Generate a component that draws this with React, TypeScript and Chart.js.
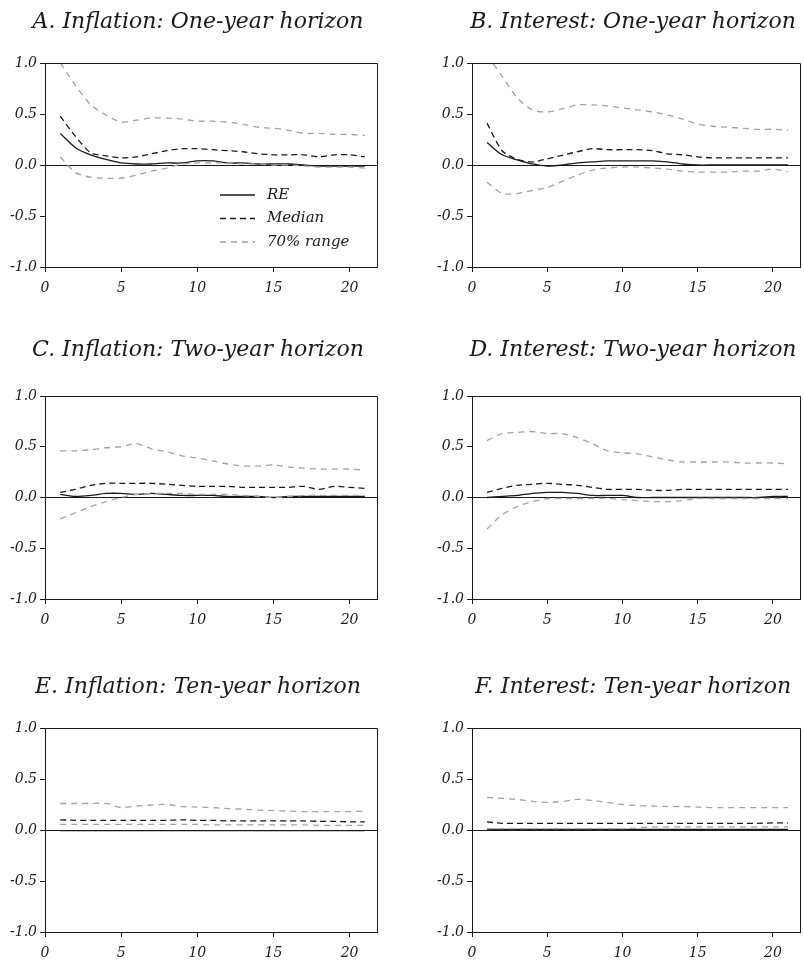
import React, { useEffect, useRef } from 'react';
import { Chart, registerables } from 'chart.js';

Chart.register(...registerables);

// ---------------- data ----------------
const PERIODS = [1, 2, 3, 4, 5, 6, 7, 8, 9, 10, 11, 12, 13, 14, 15, 16, 17, 18, 19, 20, 21];
const X_TICKS = [0, 5, 10, 15, 20];
const Y_TICKS = [-1, -0.5, 0, 0.5, 1];
const X_MAX = 21.8;
const LEGEND_LABELS = ['RE', 'Median', '70% range'];

const TITLES = [
  'A. Inflation: One-year horizon',
  'B. Interest: One-year horizon',
  'C. Inflation: Two-year horizon',
  'D. Interest: Two-year horizon',
  'E. Inflation: Ten-year horizon',
  'F. Interest: Ten-year horizon',
];

// A. Inflation, one-year
const A_RE = [0.31, 0.17, 0.10, 0.055, 0.02, 0.01, 0.01, 0.02, 0.02, 0.04, 0.04, 0.02, 0.02, 0.01, 0.01, 0.01, 0.0, -0.01, -0.01, -0.01, -0.01];
const A_MEDIAN = [0.48, 0.28, 0.12, 0.09, 0.07, 0.08, 0.11, 0.14, 0.16, 0.16, 0.15, 0.14, 0.13, 0.11, 0.10, 0.10, 0.10, 0.08, 0.10, 0.10, 0.08];
const A_UPPER = [1.0, 0.78, 0.59, 0.49, 0.42, 0.44, 0.46, 0.46, 0.45, 0.43, 0.43, 0.42, 0.40, 0.37, 0.36, 0.34, 0.31, 0.31, 0.30, 0.30, 0.29];
const A_LOWER = [0.08, -0.075, -0.12, -0.13, -0.13, -0.10, -0.06, -0.03, 0.01, 0.02, 0.02, 0.02, 0.01, 0.01, 0.0, 0.0, -0.01, -0.02, -0.02, -0.02, -0.03];

// B. Interest, one-year
const B_RE = [0.22, 0.10, 0.05, 0.01, -0.01, 0.0, 0.02, 0.03, 0.04, 0.04, 0.04, 0.04, 0.03, 0.01, 0.0, 0.0, 0.0, 0.0, 0.0, 0.0, 0.0];
const B_MEDIAN = [0.41, 0.14, 0.055, 0.03, 0.06, 0.095, 0.13, 0.16, 0.15, 0.15, 0.15, 0.14, 0.11, 0.10, 0.08, 0.07, 0.07, 0.07, 0.07, 0.07, 0.07];
const B_UPPER = [1.08, 0.87, 0.66, 0.54, 0.52, 0.55, 0.59, 0.59, 0.58, 0.56, 0.54, 0.52, 0.49, 0.45, 0.40, 0.38, 0.37, 0.36, 0.35, 0.35, 0.34];
const B_LOWER = [-0.17, -0.28, -0.28, -0.25, -0.22, -0.16, -0.10, -0.05, -0.03, -0.02, -0.02, -0.03, -0.04, -0.06, -0.07, -0.07, -0.07, -0.06, -0.06, -0.04, -0.065];

// C. Inflation, two-year
const C_RE = [0.03, 0.01, 0.02, 0.04, 0.04, 0.03, 0.04, 0.03, 0.02, 0.02, 0.02, 0.01, 0.01, 0.01, 0.0, 0.01, 0.01, 0.01, 0.01, 0.01, 0.01];
const C_MEDIAN = [0.05, 0.08, 0.12, 0.14, 0.14, 0.14, 0.14, 0.13, 0.12, 0.11, 0.11, 0.11, 0.10, 0.10, 0.10, 0.10, 0.11, 0.08, 0.11, 0.10, 0.09];
const C_UPPER = [0.46, 0.46, 0.47, 0.49, 0.50, 0.53, 0.48, 0.45, 0.41, 0.39, 0.36, 0.33, 0.31, 0.31, 0.32, 0.30, 0.29, 0.28, 0.28, 0.28, 0.27];
const C_LOWER = [-0.21, -0.15, -0.09, -0.04, 0.0, 0.03, 0.04, 0.04, 0.04, 0.03, 0.03, 0.03, 0.02, 0.01, 0.0, 0.01, 0.02, 0.02, 0.02, 0.02, 0.02];

// D. Interest, two-year
const D_RE = [0.0, 0.01, 0.02, 0.04, 0.05, 0.05, 0.04, 0.02, 0.02, 0.02, 0.0, 0.0, 0.0, 0.0, 0.0, 0.0, 0.0, 0.0, 0.0, 0.01, 0.01];
const D_MEDIAN = [0.05, 0.09, 0.12, 0.13, 0.14, 0.13, 0.12, 0.10, 0.08, 0.08, 0.08, 0.07, 0.07, 0.08, 0.08, 0.08, 0.08, 0.08, 0.08, 0.08, 0.08];
const D_UPPER = [0.56, 0.63, 0.64, 0.65, 0.63, 0.63, 0.59, 0.53, 0.46, 0.44, 0.43, 0.40, 0.37, 0.35, 0.35, 0.35, 0.35, 0.34, 0.34, 0.34, 0.33];
const D_LOWER = [-0.31, -0.17, -0.09, -0.04, -0.01, -0.01, -0.01, -0.01, -0.01, -0.02, -0.03, -0.04, -0.04, -0.03, -0.01, -0.01, -0.01, -0.01, -0.01, -0.01, -0.01];

// E. Inflation, ten-year
const E_RE = [-0.007, -0.007, -0.007, -0.007, -0.007, -0.007, -0.007, -0.007, -0.007, -0.007, -0.007, -0.007, -0.007, -0.007, -0.007, -0.007, -0.007, -0.007, -0.007, -0.007, -0.007];
const E_MEDIAN = [0.10, 0.095, 0.095, 0.095, 0.095, 0.095, 0.095, 0.095, 0.10, 0.095, 0.095, 0.09, 0.09, 0.09, 0.09, 0.09, 0.09, 0.085, 0.085, 0.08, 0.08];
const E_UPPER = [0.26, 0.26, 0.26, 0.26, 0.22, 0.235, 0.245, 0.25, 0.23, 0.225, 0.22, 0.21, 0.205, 0.195, 0.19, 0.185, 0.18, 0.18, 0.18, 0.18, 0.185];
const E_LOWER = [0.055, 0.055, 0.055, 0.055, 0.055, 0.055, 0.055, 0.055, 0.055, 0.055, 0.05, 0.05, 0.05, 0.05, 0.05, 0.05, 0.05, 0.045, 0.045, 0.045, 0.045];

// F. Interest, ten-year
const F_RE = [0.005, 0.005, 0.005, 0.005, 0.005, 0.005, 0.005, 0.005, 0.005, 0.005, 0.005, 0.005, 0.005, 0.005, 0.005, 0.005, 0.005, 0.005, 0.005, 0.005, 0.005];
const F_MEDIAN = [0.08, 0.065, 0.065, 0.065, 0.065, 0.065, 0.065, 0.065, 0.065, 0.065, 0.065, 0.065, 0.065, 0.065, 0.065, 0.065, 0.065, 0.065, 0.065, 0.07, 0.07];
const F_UPPER = [0.32, 0.31, 0.30, 0.28, 0.27, 0.28, 0.30, 0.29, 0.27, 0.25, 0.24, 0.235, 0.23, 0.23, 0.225, 0.22, 0.22, 0.22, 0.22, 0.22, 0.22];
const F_LOWER = [0.013, 0.013, 0.013, 0.013, 0.013, 0.013, 0.013, 0.013, 0.013, 0.013, 0.02, 0.03, 0.03, 0.03, 0.03, 0.03, 0.03, 0.03, 0.03, 0.03, 0.03];

// ---------------- styling / layout ----------------
const FONT = "'DejaVu Serif', 'Liberation Serif', serif";
const GRAY = '#a2a2a2';
const INK = '#1a1a1a';
const TITLE_SIZE = 22;
const X_AXIS_H = 30;

// canvas x / width, left axis width, right spacer width (keeps title centred where the original has it)
const COLS = [
  { x: 0, w: 396, yAxisW: 45, rightW: 19 },
  { x: 426, w: 414, yAxisW: 46, rightW: 40 },
];
const ROWS = [
  { y: 0, h: 300, titleC: 22, top: 63, bottom: 267 },
  { y: 318, h: 312, titleC: 350, top: 396, bottom: 599 },
  { y: 640, h: 321, titleC: 687, top: 728, bottom: 932 },
];

const PANELS = [
  { title: TITLES[0], re: A_RE, med: A_MEDIAN, up: A_UPPER, lo: A_LOWER, col: 0, row: 0, legend: true },
  { title: TITLES[1], re: B_RE, med: B_MEDIAN, up: B_UPPER, lo: B_LOWER, col: 1, row: 0, legend: false },
  { title: TITLES[2], re: C_RE, med: C_MEDIAN, up: C_UPPER, lo: C_LOWER, col: 0, row: 1, legend: false },
  { title: TITLES[3], re: D_RE, med: D_MEDIAN, up: D_UPPER, lo: D_LOWER, col: 1, row: 1, legend: false },
  { title: TITLES[4], re: E_RE, med: E_MEDIAN, up: E_UPPER, lo: E_LOWER, col: 0, row: 2, legend: false },
  { title: TITLES[5], re: F_RE, med: F_MEDIAN, up: F_UPPER, lo: F_LOWER, col: 1, row: 2, legend: false },
];

const RE_STYLE = { color: INK, dash: [] as number[], width: 1.3 };
const MED_STYLE = { color: INK, dash: [6, 4], width: 1.3 };
const RANGE_STYLE = { color: GRAY, dash: [6, 5], width: 1.3 };

const align = (v: number) => Math.round(v) + 0.5;

const framePlugin = {
  id: 'frameBox',
  afterDatasetsDraw(chart: any) {
    const { ctx, chartArea: a } = chart;
    ctx.save();
    ctx.strokeStyle = INK;
    ctx.lineWidth = 1;
    ctx.beginPath();
    ctx.moveTo(align(a.left), align(a.top));
    ctx.lineTo(align(a.right), align(a.top));
    ctx.lineTo(align(a.right), align(a.bottom));
    ctx.stroke();
    ctx.restore();
  },
};

const legendPlugin = {
  id: 'insideLegend',
  afterDatasetsDraw(chart: any, _args: any, opts: any) {
    if (!opts || !opts.show) return;
    const { ctx, chartArea: a } = chart;
    const styles = [RE_STYLE, MED_STYLE, RANGE_STYLE];
    ctx.save();
    LEGEND_LABELS.forEach((label, i) => {
      const y = a.top + opts.y0 + i * opts.dy;
      const s = styles[i];
      ctx.beginPath();
      ctx.setLineDash(s.dash);
      ctx.strokeStyle = s.color;
      ctx.lineWidth = s.width;
      ctx.moveTo(a.left + opts.x0, y);
      ctx.lineTo(a.left + opts.x0 + opts.len, y);
      ctx.stroke();
      ctx.setLineDash([]);
      ctx.fillStyle = INK;
      ctx.font = `italic 15px ${FONT}`;
      ctx.textBaseline = 'middle';
      ctx.textAlign = 'left';
      ctx.fillText(label, a.left + opts.textX, y);
    });
    ctx.restore();
  },
};

function series(values: number[], style: { color: string; dash: number[]; width: number }) {
  return {
    data: PERIODS.map((p, i) => ({ x: p, y: values[i] })),
    borderColor: style.color,
    borderDash: style.dash,
    borderWidth: style.width,
    pointRadius: 0,
    tension: 0.25,
    fill: false,
    yAxisID: 'y',
  };
}

function Panel({ spec }: { spec: (typeof PANELS)[number] }) {
  const ref = useRef<HTMLCanvasElement | null>(null);
  const col = COLS[spec.col];
  const row = ROWS[spec.row];

  useEffect(() => {
    if (!ref.current) return;
    const titlePadTop = row.titleC - row.y - TITLE_SIZE * 0.6;
    const titlePadBottom = row.top - row.y - titlePadTop - TITLE_SIZE * 1.2;
    const padBottom = row.y + row.h - row.bottom - X_AXIS_H;
    const tickFont = { family: FONT, size: 14, style: 'italic' as const };

    const chart = new Chart(ref.current, {
      type: 'line',
      data: {
        datasets: [
          series(spec.up, RANGE_STYLE),
          series(spec.lo, RANGE_STYLE),
          series(spec.med, MED_STYLE),
          series(spec.re, RE_STYLE),
        ],
      },
      options: {
        responsive: false,
        animation: false,
        events: [],
        layout: { padding: { left: 0, right: 0, top: 0, bottom: padBottom } },
        scales: {
          x: {
            type: 'linear',
            min: 0,
            max: X_MAX,
            afterBuildTicks: (axis: any) => {
              axis.ticks = X_TICKS.map((v) => ({ value: v }));
            },
            afterFit: (axis: any) => {
              axis.height = X_AXIS_H;
            },
            ticks: {
              color: INK,
              font: tickFont,
              padding: 8,
              maxRotation: 0,
              callback: (v: any) => String(v),
            },
            grid: {
              display: true,
              drawOnChartArea: false,
              drawTicks: true,
              tickLength: 5,
              tickColor: INK,
              color: INK,
            },
            border: { display: true, color: INK, width: 1 },
          },
          y: {
            type: 'linear',
            position: 'left',
            min: -1,
            max: 1,
            afterBuildTicks: (axis: any) => {
              axis.ticks = Y_TICKS.map((v) => ({ value: v }));
            },
            afterFit: (axis: any) => {
              axis.width = col.yAxisW;
            },
            ticks: {
              color: INK,
              font: tickFont,
              padding: 3,
              callback: (v: any) => Number(v).toFixed(1),
            },
            grid: {
              display: true,
              drawOnChartArea: true,
              drawTicks: true,
              tickLength: 5,
              tickColor: INK,
              lineWidth: 1,
              color: (ctx: any) => (ctx.tick && ctx.tick.value === 0 ? INK : 'rgba(0,0,0,0)'),
            },
            border: { display: true, color: INK, width: 1 },
          },
          spacer: {
            type: 'linear',
            position: 'right',
            display: true,
            min: -1,
            max: 1,
            afterFit: (axis: any) => {
              axis.width = col.rightW;
            },
            ticks: { display: false },
            grid: { display: false, drawTicks: false },
            border: { display: false },
          },
        },
        plugins: {
          legend: { display: false },
          tooltip: { enabled: false },
          title: {
            display: true,
            text: spec.title,
            fullSize: true,
            align: 'center',
            color: INK,
            font: { family: FONT, size: TITLE_SIZE, style: 'italic', weight: 'normal', lineHeight: 1.2 },
            padding: { top: titlePadTop, bottom: titlePadBottom },
          },
          insideLegend: { show: spec.legend, x0: 175, len: 35, textX: 222, y0: 132, dy: 23.5 },
        } as any,
      },
      plugins: [framePlugin, legendPlugin],
    } as any);
    return () => chart.destroy();
  }, []);

  return (
    <canvas
      ref={ref}
      width={col.w}
      height={row.h}
      style={{ position: 'absolute', left: col.x, top: row.y, width: col.w, height: row.h }}
    />
  );
}

export default function App() {
  return (
    <div style={{ position: 'absolute', left: 0, top: 0, width: 804, height: 961, background: '#fff', overflow: 'hidden' }}>
      {PANELS.map((p) => (
        <Panel key={p.title} spec={p} />
      ))}
    </div>
  );
}
